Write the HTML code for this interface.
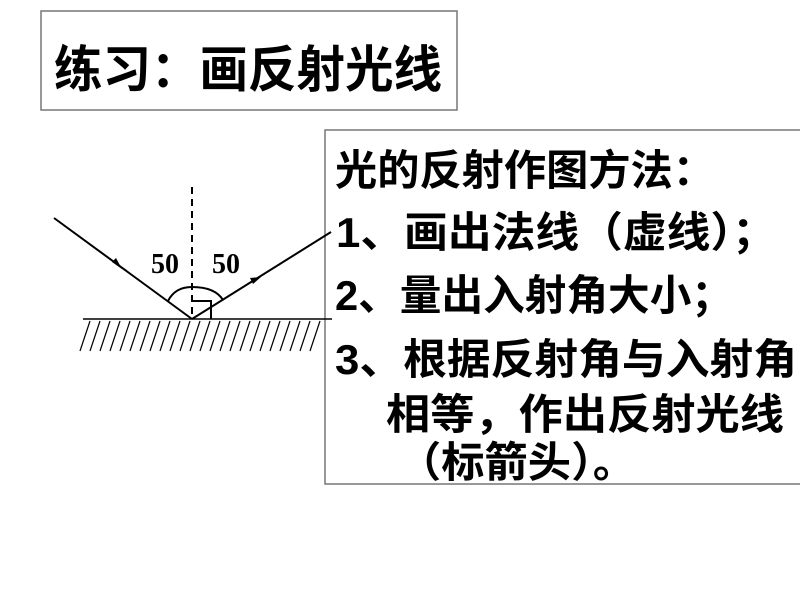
<!DOCTYPE html>
<html><head><meta charset="utf-8"><style>
html,body{margin:0;padding:0;background:#fff;}
svg{display:block;}
.cn{font-family:"Liberation Sans","Noto Sans CJK SC",sans-serif;font-weight:bold;fill:#000;}
</style></head><body>
<svg width="800" height="600" viewBox="0 0 800 600" xmlns="http://www.w3.org/2000/svg">
<rect x="41" y="11" width="416" height="99" fill="none" stroke="#777" stroke-width="1.5"/>
<text class="cn" x="54" y="87" font-size="50" textLength="388" lengthAdjust="spacingAndGlyphs">练习：画反射光线</text>
<rect x="325" y="130" width="480" height="354" fill="none" stroke="#777" stroke-width="1.5"/>
<g class="cn" font-size="42">
<text x="335" y="185" textLength="380" lengthAdjust="spacingAndGlyphs">光的反射作图方法：</text>
<text x="336" y="247" textLength="440" lengthAdjust="spacingAndGlyphs">1、画出法线（虚线）；</text>
<text x="335" y="310" textLength="398" lengthAdjust="spacingAndGlyphs">2、量出入射角大小；</text>
<text x="335" y="374" textLength="462" lengthAdjust="spacingAndGlyphs">3、根据反射角与入射角</text>
<text x="386" y="429" textLength="398" lengthAdjust="spacingAndGlyphs">相等，作出反射光线</text>
<text x="398" y="477" textLength="238" lengthAdjust="spacingAndGlyphs">（标箭头）。</text>
</g>
<g stroke="#000" fill="none">
<line x1="83" y1="319" x2="332" y2="319" stroke-width="1.5"/>
<line x1="192" y1="187" x2="192" y2="319" stroke-width="2" stroke-dasharray="7,5"/>
<line x1="54" y1="218" x2="192" y2="319" stroke-width="2"/>
<line x1="192" y1="319" x2="331" y2="232" stroke-width="2"/>
<path d="M168,301 Q175,287 192,287 Q215,287 223,300" stroke-width="2"/>
<path d="M193,301 L211,301 L211,319" stroke-width="2"/>
<g stroke-width="1.2">
<line x1="80" y1="351" x2="90" y2="321"/>
<line x1="90" y1="351" x2="100" y2="321"/>
<line x1="100" y1="351" x2="110" y2="321"/>
<line x1="110" y1="351" x2="120" y2="321"/>
<line x1="120" y1="351" x2="130" y2="321"/>
<line x1="130" y1="351" x2="140" y2="321"/>
<line x1="140" y1="351" x2="150" y2="321"/>
<line x1="150" y1="351" x2="160" y2="321"/>
<line x1="160" y1="351" x2="170" y2="321"/>
<line x1="170" y1="351" x2="180" y2="321"/>
<line x1="180" y1="351" x2="190" y2="321"/>
<line x1="190" y1="351" x2="200" y2="321"/>
<line x1="200" y1="351" x2="210" y2="321"/>
<line x1="210" y1="351" x2="220" y2="321"/>
<line x1="220" y1="351" x2="230" y2="321"/>
<line x1="230" y1="351" x2="240" y2="321"/>
<line x1="240" y1="351" x2="250" y2="321"/>
<line x1="250" y1="351" x2="260" y2="321"/>
<line x1="260" y1="351" x2="270" y2="321"/>
<line x1="270" y1="351" x2="280" y2="321"/>
<line x1="280" y1="351" x2="290" y2="321"/>
<line x1="290" y1="351" x2="300" y2="321"/>
<line x1="300" y1="351" x2="310" y2="321"/>
<line x1="310" y1="351" x2="320" y2="321"/>
</g>
</g>
<polygon points="122,269 112,262 116,258" fill="#000"/>
<polygon points="261,277 250,278 253,284" fill="#000"/>
<g font-family="Liberation Serif,serif" font-weight="bold" font-size="28" fill="#000">
<text x="151" y="273">50</text>
<text x="212" y="273">50</text>
</g>
</svg>
</body></html>
